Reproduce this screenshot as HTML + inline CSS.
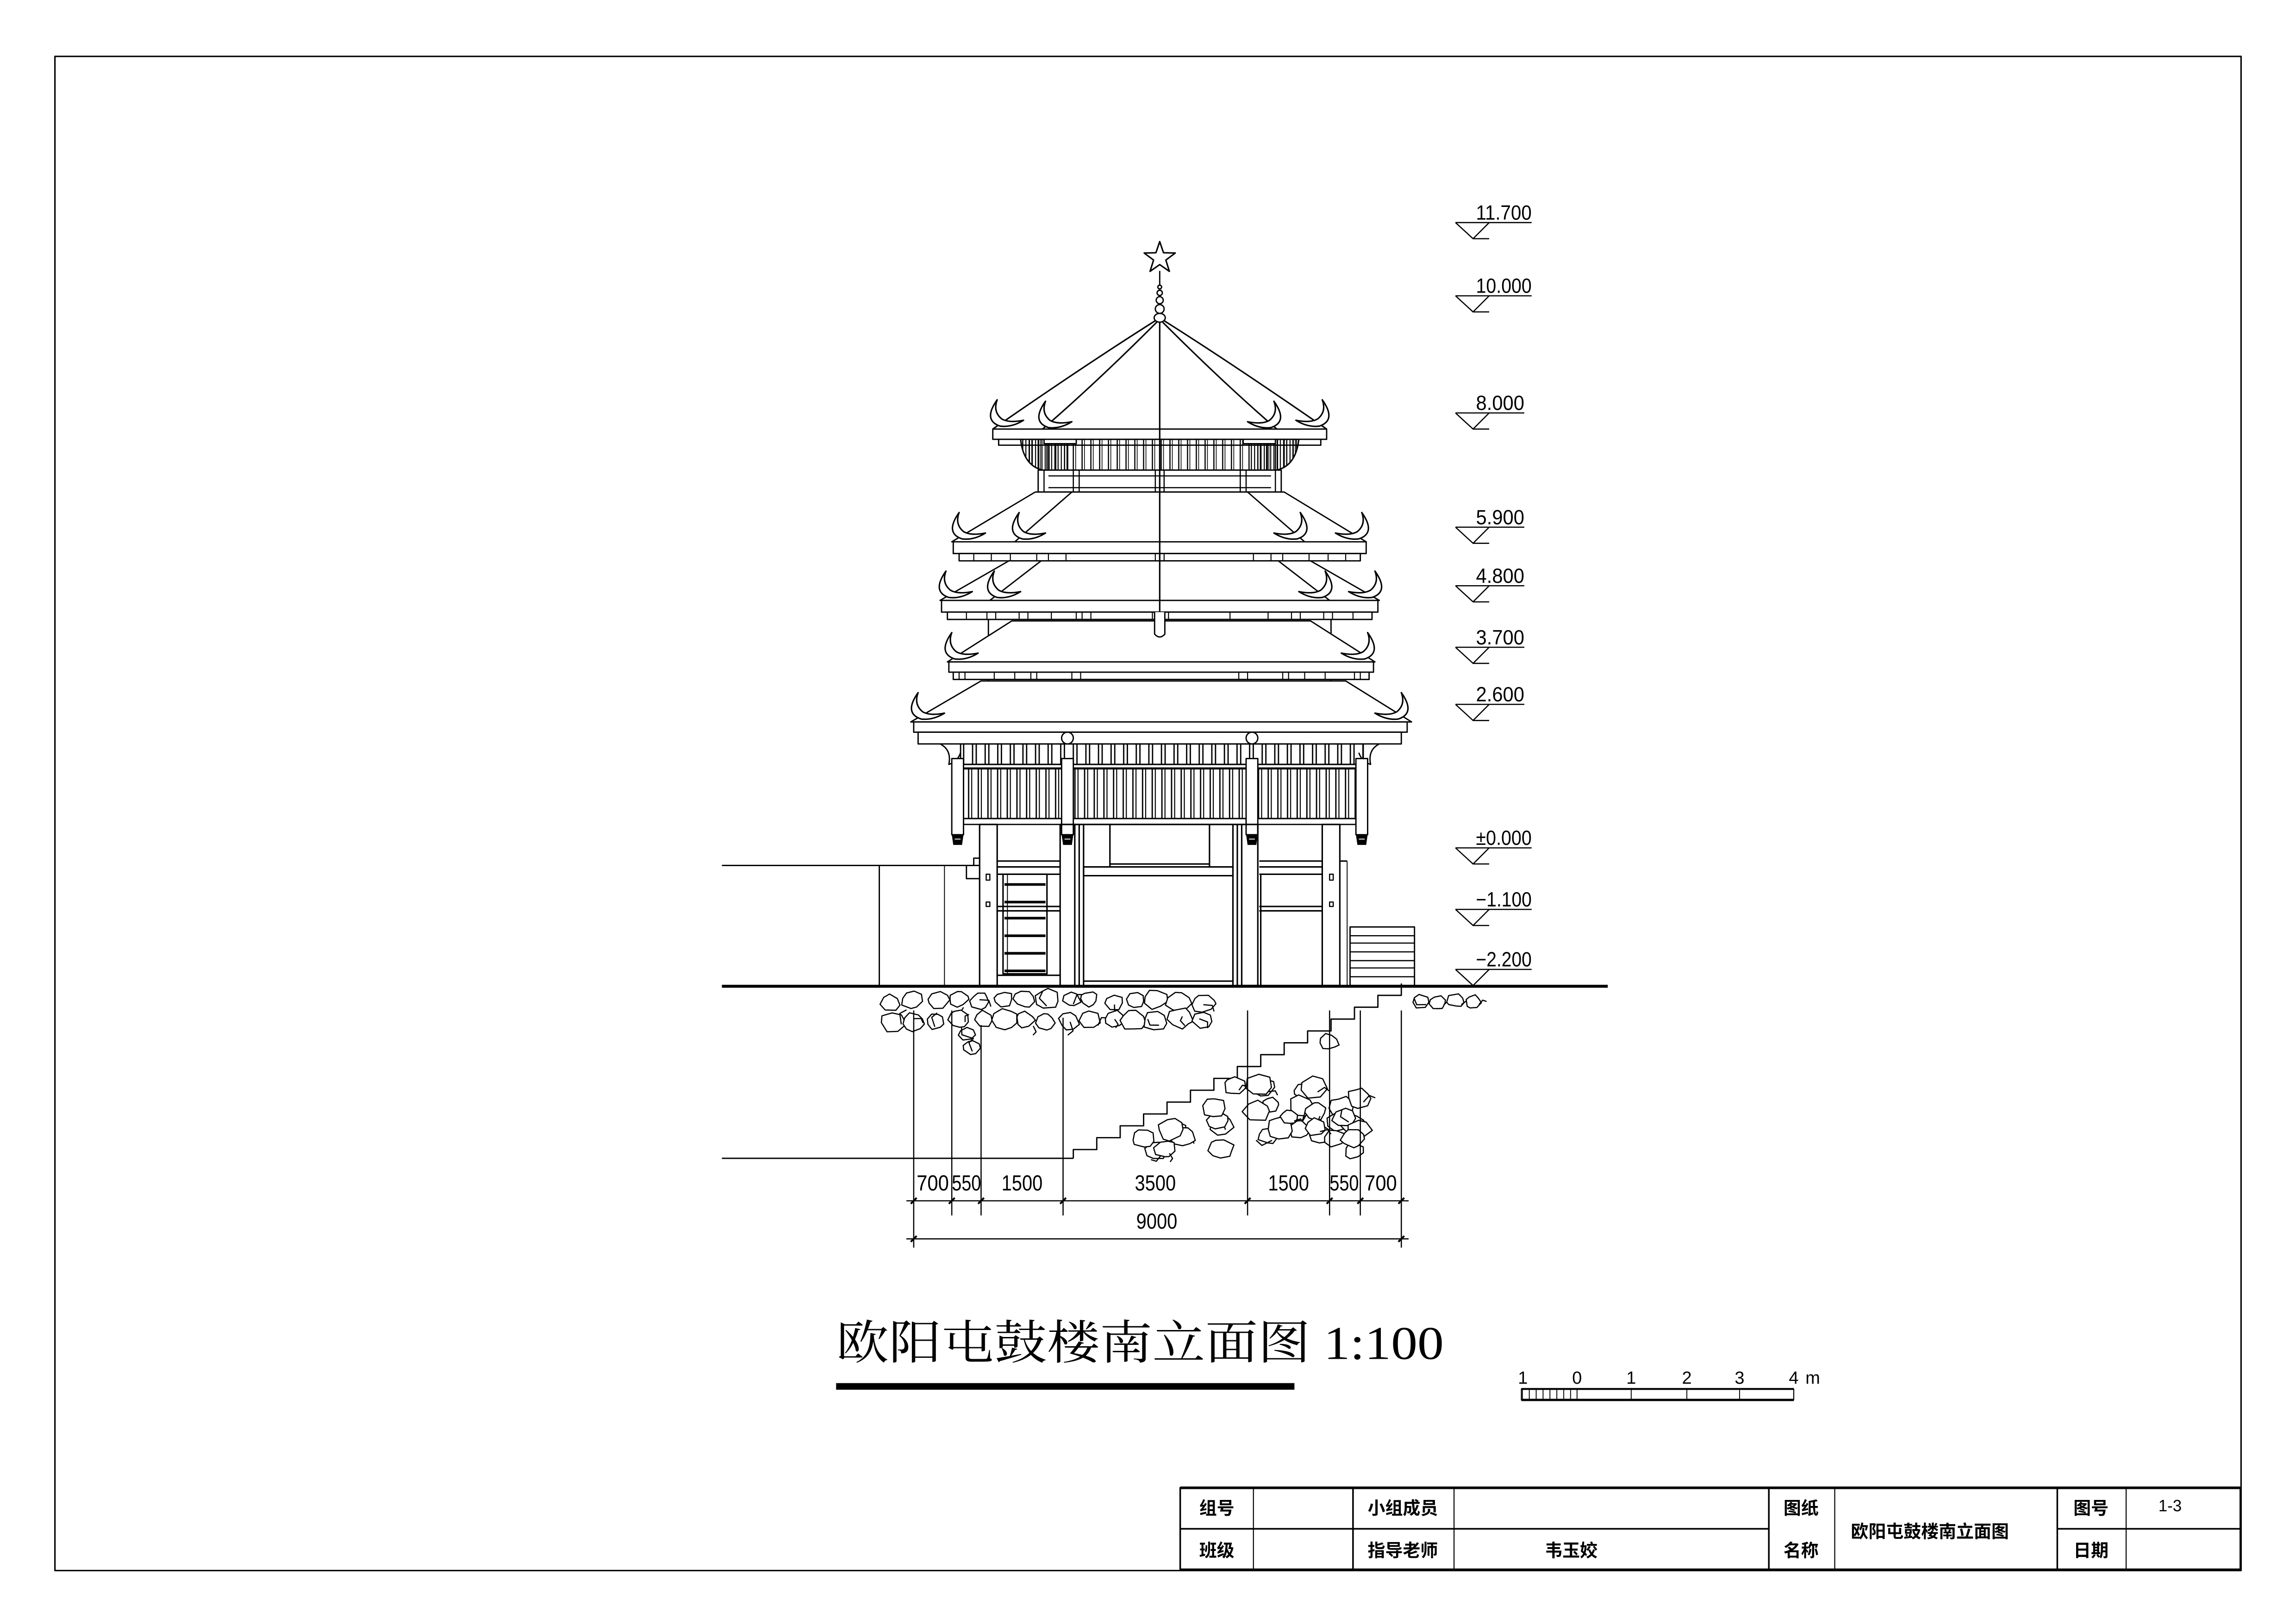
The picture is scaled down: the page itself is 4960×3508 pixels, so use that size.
<!DOCTYPE html>
<html><head><meta charset="utf-8"><style>
html,body{margin:0;padding:0;background:#fff}
svg{display:block}
text{font-family:"Liberation Sans","Noto Sans CJK SC",sans-serif;fill:#000}
</style></head><body>
<svg id="s" xmlns="http://www.w3.org/2000/svg" width="4960" height="3508" viewBox="0 0 1568 1109" fill="none" stroke="#000" stroke-width="0.9" stroke-linejoin="round">
<defs>
<pattern id="slat" width="8.6" height="10" patternUnits="userSpaceOnUse"><line x1="2" y1="0" x2="2" y2="10" stroke="#000" stroke-width="0.9"/><line x1="4.5" y1="0" x2="4.5" y2="10" stroke="#000" stroke-width="0.9"/></pattern>
<pattern id="slat2" width="6.6" height="10" patternUnits="userSpaceOnUse"><line x1="1.5" y1="0" x2="1.5" y2="10" stroke="#000" stroke-width="0.9"/><line x1="3.6" y1="0" x2="3.6" y2="10" stroke="#000" stroke-width="0.7"/></pattern>
<pattern id="belt" width="6" height="10" patternUnits="userSpaceOnUse"><line x1="1" y1="0" x2="1" y2="10" stroke="#000" stroke-width="0.8"/><line x1="2.6" y1="0" x2="2.6" y2="10" stroke="#000" stroke-width="0.5"/></pattern>
<pattern id="beltd" width="2.2" height="10" patternUnits="userSpaceOnUse"><line x1="1" y1="0" x2="1" y2="10" stroke="#000" stroke-width="0.7"/></pattern>
<pattern id="hatch" width="4.7" height="10" patternUnits="userSpaceOnUse"><line x1="1" y1="0" x2="1" y2="10" stroke="#000" stroke-width="0.6"/></pattern>
</defs>

<rect x="37.5" y="38.5" width="1493" height="1034" stroke-width="1"/>

<g stroke-width="1.1">
<rect x="806" y="1016" width="724" height="56"/>
<line x1="806" y1="1016" x2="1530" y2="1016" stroke-width="1.8"/>
<line x1="806" y1="1072" x2="1530" y2="1072" stroke-width="1.8"/>
<line x1="806" y1="1044" x2="1208" y2="1044"/>
<line x1="1405" y1="1044" x2="1530" y2="1044"/>
<line x1="856" y1="1016" x2="856" y2="1072" stroke-width="0.7"/>
<line x1="924" y1="1016" x2="924" y2="1072"/>
<line x1="993" y1="1016" x2="993" y2="1072" stroke-width="0.7"/>
<line x1="1208" y1="1016" x2="1208" y2="1072"/>
<line x1="1253" y1="1016" x2="1253" y2="1072" stroke-width="0.7"/>
<line x1="1405" y1="1016" x2="1405" y2="1072"/>
<line x1="1452" y1="1016" x2="1452" y2="1072" stroke-width="0.7"/>
</g>
<g stroke="none" font-size="12" font-weight="bold" text-anchor="middle">
<text x="831" y="1034">组号</text>
<text x="831" y="1063">班级</text>
<text x="958" y="1034">小组成员</text>
<text x="958" y="1063">指导老师</text>
<text x="1073" y="1063">韦玉姣</text>
<text x="1230" y="1034">图纸</text>
<text x="1230" y="1063">名称</text>
<text x="1318" y="1050">欧阳屯鼓楼南立面图</text>
<text x="1428" y="1034">图号</text>
<text x="1428" y="1063">日期</text>
<text x="1482" y="1032" font-family="Liberation Serif" font-weight="normal" font-size="11">1-3</text>
</g>

<text x="571" y="928" font-size="32" textLength="415" lengthAdjust="spacingAndGlyphs" stroke="none" style="font-family:'Liberation Serif','Noto Serif CJK SC',serif">欧阳屯鼓楼南立面图 1:100</text>
<rect x="571" y="944.5" width="313" height="4.5" fill="#000" stroke="none"/>

<g stroke="none" font-size="12" text-anchor="middle" style="font-family:'Liberation Serif',serif">
<text x="1040" y="945">1</text><text x="1077" y="945">0</text><text x="1114" y="945">1</text><text x="1152" y="945">2</text><text x="1188" y="945">3</text><text x="1225" y="945">4</text><text x="1238" y="945">m</text>
</g>
<rect x="1039" y="949" width="38" height="6.5" fill="url(#hatch)" stroke="none"/>
<rect x="1039" y="948.5" width="186" height="7.5" stroke-width="0.7"/>
<line x1="1039" y1="948.5" x2="1225" y2="948.5" stroke-width="1.3"/>
<line x1="1039" y1="956" x2="1225" y2="956" stroke-width="1.6"/>
<line x1="1077" y1="948.5" x2="1077" y2="956" stroke-width="0.6"/>
<line x1="1114" y1="948.5" x2="1114" y2="956" stroke-width="0.6"/>
<line x1="1152" y1="948.5" x2="1152" y2="956" stroke-width="0.6"/>
<line x1="1188" y1="948.5" x2="1188" y2="956" stroke-width="0.6"/>

<g id="levels" stroke-width="0.8"></g>

<line x1="493" y1="673.5" x2="1098" y2="673.5" stroke-width="2"/>
<line x1="493" y1="591" x2="669" y2="591"/>
<line x1="600.5" y1="591" x2="600.5" y2="673"/>
<line x1="645" y1="591" x2="645" y2="673" stroke-width="0.6"/>
<path d="M660 591 h5 v-5 h4 M660 591 v9 h9"/>
<line x1="493" y1="791" x2="733" y2="791"/>
<path id="stairs" d=""/>

<polygon points="792,165 794.6,172.6 802.6,172.8 796.2,177.6 798.6,185.3 792,180.7 785.4,185.3 787.8,177.6 781.4,172.8 789.4,172.6" fill="#fff" stroke-width="1"/>
<line x1="792" y1="185" x2="792" y2="196"/>
<circle cx="792" cy="196" r="1.3" fill="#fff"/>
<circle cx="792" cy="200" r="1.8" fill="#fff"/>
<circle cx="792" cy="205" r="2.4" fill="#fff"/>
<circle cx="792" cy="211" r="3" fill="#fff"/>
<ellipse cx="792" cy="217" rx="3.8" ry="3" fill="#fff"/>
<path d="M789 219 Q740 250 678 293 M790 220 Q748 262 712 293 M794 220 Q836 262 872 293 M795 219 Q844 250 906 293" stroke-width="1"/>
<rect x="678" y="293" width="228" height="7" fill="#fff"/>
<rect x="682" y="300" width="220" height="4" fill="#fff"/>
<path d="M697 300 Q699 318 712 321 L872 321 Q885 318 887 300 Z" fill="url(#belt)"/>
<path d="M697 300 Q699 318 712 321 L730 321 L730 300 Z" fill="url(#beltd)" stroke="none"/>
<path d="M854 300 L854 321 L872 321 Q885 318 887 300 Z" fill="url(#beltd)" stroke="none"/>
<path d="M697 300 Q699 318 712 321 L872 321 Q885 318 887 300"/>
<rect x="713" y="300" width="22" height="3" fill="#fff"/><rect x="849" y="300" width="22" height="3" fill="#fff"/>
<rect x="709" y="321" width="166" height="15" fill="#fff"/>
<g stroke-width="0.8">
<line x1="713" y1="321" x2="713" y2="336"/><line x1="733" y1="321" x2="733" y2="336"/><line x1="737" y1="321" x2="737" y2="336"/>
<line x1="789" y1="321" x2="789" y2="336"/><line x1="795" y1="321" x2="795" y2="336"/>
<line x1="847" y1="321" x2="847" y2="336"/><line x1="851" y1="321" x2="851" y2="336"/><line x1="871" y1="321" x2="871" y2="336"/>
<line x1="716" y1="325" x2="868" y2="325"/><line x1="716" y1="333" x2="868" y2="333"/>
</g>

<polygon points="707,336 877,336 933,370 650,370" fill="#fff"/>
<line x1="732" y1="336" x2="693" y2="370"/><line x1="852" y1="336" x2="891" y2="370"/>
<rect x="651" y="370" width="282" height="8" fill="#fff"/>
<rect x="655" y="378" width="274" height="5" fill="#fff"/>
<g stroke-width="0.7"><rect x="665" y="378" width="12" height="5"/><rect x="690" y="378" width="18" height="5"/><rect x="716" y="378" width="12" height="5"/><rect x="789" y="378" width="6" height="5"/><rect x="856" y="378" width="12" height="5"/><rect x="876" y="378" width="18" height="5"/><rect x="907" y="378" width="12" height="5"/></g>

<polygon points="689,383 895,383 942,410 642,410" fill="#fff"/>
<line x1="711" y1="383" x2="676" y2="410"/><line x1="873" y1="383" x2="908" y2="410"/>
<rect x="643" y="410" width="298" height="8" fill="#fff"/>
<rect x="647" y="418" width="290" height="5" fill="#fff"/>
<g stroke-width="0.7"><rect x="660" y="418" width="14" height="5"/><rect x="680" y="418" width="16" height="5"/><rect x="702" y="418" width="16" height="5"/><rect x="735" y="418" width="4" height="5"/><rect x="745" y="418" width="42" height="5"/><rect x="798" y="418" width="42" height="5"/><rect x="866" y="418" width="16" height="5"/><rect x="888" y="418" width="16" height="5"/><rect x="910" y="418" width="14" height="5"/></g>

<line x1="675" y1="423" x2="675" y2="465"/><line x1="909" y1="423" x2="909" y2="465"/>
<polygon points="691,424 895,424 939,452 647,452" fill="#fff"/>
<rect x="648" y="452" width="290" height="7" fill="#fff"/>
<rect x="651" y="459" width="284" height="5" fill="#fff"/>
<g stroke-width="0.7"><rect x="655" y="459" width="4" height="5"/><rect x="679" y="459" width="14" height="5"/><rect x="704" y="459" width="4" height="5"/><rect x="732" y="459" width="6" height="5"/><rect x="846" y="459" width="6" height="5"/><rect x="876" y="459" width="4" height="5"/><rect x="891" y="459" width="14" height="5"/><rect x="925" y="459" width="4" height="5"/></g>

<line x1="792" y1="220" x2="792" y2="420" stroke-width="1"/>
<path d="M788.5 418 V433 Q792 437 795.5 433 V418" fill="#fff"/>

<polygon points="670,465 919,465 964,493 622,493" fill="#fff"/>
<rect x="624" y="493" width="337" height="7" fill="#fff"/>
<rect x="627" y="500" width="330" height="8" fill="#fff"/>
<rect x="656" y="508" width="275" height="14" fill="url(#slat)"/>
<line x1="656" y1="522" x2="931" y2="522"/><line x1="658" y1="524.5" x2="926" y2="524.5"/>
<rect x="658" y="525" width="275" height="34" fill="url(#slat2)" stroke="none"/>
<rect x="658" y="525" width="268" height="34"/>
<rect x="658" y="559" width="268" height="4" fill="#fff"/>
<path d="M642 508 Q650 512 648 522 Q654 520 656 514" />
<path d="M942 508 Q934 512 936 522 Q930 520 928 514" />
<g fill="#fff">
<rect x="650" y="518" width="8" height="52"/><rect x="725" y="518" width="8" height="52"/><rect x="851" y="518" width="8" height="52"/><rect x="926" y="518" width="8" height="52"/>
<circle cx="729" cy="504" r="4"/><circle cx="855" cy="504" r="4"/>
</g>
<g fill="#000" stroke="none">
<path d="M650 570 h8 l-1 7 h-6 z"/><path d="M725 570 h8 l-1 7 h-6 z"/><path d="M851 570 h8 l-1 7 h-6 z"/><path d="M926 570 h8 l-1 7 h-6 z"/>
</g>
<g stroke="#fff" stroke-width="0.6"><line x1="652" y1="573" x2="656" y2="573"/><line x1="727" y1="573" x2="731" y2="573"/><line x1="853" y1="573" x2="857" y2="573"/><line x1="928" y1="573" x2="932" y2="573"/></g>

<g stroke-width="1">
<rect x="669" y="563" width="12" height="110"/>
<rect x="724" y="563" width="10" height="110"/>
<rect x="848" y="563" width="11" height="110"/>
<rect x="903" y="563" width="12" height="110"/>
<line x1="734" y1="563" x2="848" y2="563"/>
<line x1="737" y1="563" x2="737" y2="673"/><line x1="740" y1="563" x2="740" y2="673"/>
<line x1="845" y1="563" x2="845" y2="673"/><line x1="842" y1="563" x2="842" y2="673"/>
<line x1="758" y1="563" x2="758" y2="592"/><line x1="826" y1="563" x2="826" y2="592"/>
<rect x="740" y="592" width="102" height="6"/>
<line x1="758" y1="590" x2="826" y2="590"/>
<line x1="740" y1="670" x2="842" y2="670"/>
<line x1="681" y1="588" x2="724" y2="588"/><line x1="681" y1="592" x2="724" y2="592"/><line x1="681" y1="597" x2="724" y2="597"/>
<line x1="681" y1="619" x2="724" y2="619"/><line x1="681" y1="622" x2="724" y2="622"/>
<rect x="685" y="597" width="30" height="68"/>
<line x1="688" y1="597" x2="688" y2="665" stroke-width="0.6"/>
<line x1="681" y1="666" x2="724" y2="666"/>
<line x1="860" y1="588" x2="903" y2="588"/><line x1="860" y1="592" x2="903" y2="592"/><line x1="860" y1="597" x2="903" y2="597"/>
<line x1="860" y1="619" x2="903" y2="619"/><line x1="860" y1="622" x2="903" y2="622"/>
<line x1="861" y1="597" x2="861" y2="673"/>
<line x1="915" y1="588" x2="920" y2="588"/><line x1="920" y1="588" x2="920" y2="673" stroke-width="0.6"/>
</g>
<g stroke-width="1.8"><line x1="686" y1="604" x2="714" y2="604"/><line x1="686" y1="616" x2="714" y2="616"/><line x1="686" y1="627" x2="714" y2="627"/><line x1="686" y1="639" x2="714" y2="639"/><line x1="686" y1="651" x2="714" y2="651"/><line x1="686" y1="663" x2="714" y2="663"/></g>
<g stroke-width="0.8"><rect x="673.5" y="597" width="2.5" height="4"/><rect x="673.5" y="616" width="2.5" height="3"/><rect x="908" y="597" width="2.5" height="4"/><rect x="908" y="616" width="2.5" height="3"/></g>
<rect x="922" y="633" width="44" height="40"/>
<g stroke-width="0.8"><line x1="922" y1="639" x2="966" y2="639"/><line x1="922" y1="644" x2="966" y2="644"/><line x1="922" y1="650" x2="966" y2="650"/><line x1="922" y1="656" x2="966" y2="656"/><line x1="922" y1="661" x2="966" y2="661"/><line x1="922" y1="667" x2="966" y2="667"/></g>

<g id="horns" fill="#fff" stroke-width="1"></g>
<g id="stones" stroke-width="0.8"></g>

<g stroke-width="0.8">
<line x1="624" y1="690" x2="624" y2="852"/><line x1="650" y1="690" x2="650" y2="830"/><line x1="670" y1="700" x2="670" y2="830"/><line x1="726" y1="695" x2="726" y2="830"/>
<line x1="852" y1="690" x2="852" y2="830"/><line x1="908" y1="690" x2="908" y2="830"/><line x1="929" y1="690" x2="929" y2="830"/><line x1="957" y1="690" x2="957" y2="852"/>
<line x1="619" y1="820" x2="962" y2="820"/>
<line x1="619" y1="846" x2="962" y2="846"/>
</g>
<g stroke-width="1.3">
<line x1="622" y1="822" x2="626" y2="818"/><line x1="648" y1="822" x2="652" y2="818"/><line x1="668" y1="822" x2="672" y2="818"/><line x1="724" y1="822" x2="728" y2="818"/><line x1="850" y1="822" x2="854" y2="818"/><line x1="906" y1="822" x2="910" y2="818"/><line x1="927" y1="822" x2="931" y2="818"/><line x1="955" y1="822" x2="959" y2="818"/>
<line x1="622" y1="848" x2="626" y2="844"/><line x1="955" y1="848" x2="959" y2="844"/>
</g>
<g stroke="none" font-size="15" text-anchor="middle">
<text x="637" y="813" textLength="22" lengthAdjust="spacingAndGlyphs">700</text>
<text x="660" y="813" textLength="20" lengthAdjust="spacingAndGlyphs">550</text>
<text x="698" y="813" textLength="28" lengthAdjust="spacingAndGlyphs">1500</text>
<text x="789" y="813" textLength="28" lengthAdjust="spacingAndGlyphs">3500</text>
<text x="880" y="813" textLength="28" lengthAdjust="spacingAndGlyphs">1500</text>
<text x="918" y="813" textLength="20" lengthAdjust="spacingAndGlyphs">550</text>
<text x="943" y="813" textLength="22" lengthAdjust="spacingAndGlyphs">700</text>
<text x="790" y="839" textLength="28" lengthAdjust="spacingAndGlyphs">9000</text>
</g>
</svg>
<script>
(function(){
var NS="http://www.w3.org/2000/svg";
function el(p,t,a){var e=document.createElementNS(NS,t);for(var k in a)e.setAttribute(k,a[k]);p.appendChild(e);return e;}
var lv=document.getElementById('levels');
var L=[["11.700",152],["10.000",202],["8.000",282],["5.900",360],["4.800",400],["3.700",442],["2.600",481],["±0.000",579],["−1.100",621],["−2.200",662]];
L.forEach(function(a){var y=a[1];
 var tw=a[0].length>5?38:33;
 el(lv,'path',{d:'M994 '+y+' H'+(1008+tw)+' M994 '+y+' L1006 '+(y+11)+' L1017 '+y+' M1006 '+(y+11)+' H1017'});
 var t=el(lv,'text',{x:1008,y:y-2,'font-size':14,stroke:'none',textLength:tw,lengthAdjust:'spacingAndGlyphs'});t.textContent=a[0];
});
var hg=document.getElementById('horns');
function horn(x,y,d){var s=function(dx){return x+dx*d;};
 el(hg,'path',{d:'M'+x+' '+y+' Q'+s(-10)+' '+(y+14)+' '+s(2)+' '+(y+18)+' Q'+s(10)+' '+(y+19)+' '+s(18)+' '+(y+14)+' Q'+s(8)+' '+(y+16)+' '+s(3)+' '+(y+13)+' Q'+s(-3)+' '+(y+8)+' '+x+' '+y+' Z'});}
[[681,273],[714,274],[655,350],[696,350],[646,390],[679,390],[650,432],[627,473]].forEach(function(p){horn(p[0],p[1],1);});
[[903,273],[870,274],[930,350],[888,350],[939,390],[905,390],[934,432],[957,473]].forEach(function(p){horn(p[0],p[1],-1);});
var d='M733 791 V785';var x=733,y=785;
for(var i=0;i<14;i++){x+=16;d+=' H'+x.toFixed(1);y-=8.1;d+=' V'+y.toFixed(1);}
document.getElementById('stairs').setAttribute('d',d);
var sg=document.getElementById('stones');var seed=7;
function r(){seed=(seed*16807)%2147483647;return seed/2147483647;}
function stone(cx,cy,rad){var n=7+Math.floor(r()*3),pts=[];for(var i=0;i<n;i++){var a=i/n*6.283+r()*0.4,rr=rad*(0.85+r()*0.3);pts.push((cx+Math.cos(a)*rr*1.1).toFixed(1)+','+(cy+Math.sin(a)*rr*0.9).toFixed(1));}
 el(sg,'polygon',{points:pts.join(' '),fill:'#fff'});}
function stick(cx,cy){var a=r()*6.28,l=4+r()*4;el(sg,'path',{d:'M'+cx.toFixed(1)+' '+cy.toFixed(1)+' l'+(Math.cos(a)*l).toFixed(1)+' '+(Math.sin(a)*l).toFixed(1)+' l'+(Math.cos(a+1.2)*l*0.7).toFixed(1)+' '+(Math.sin(a+1.2)*l*0.7).toFixed(1)});}
for(var xx=608;xx<828;xx+=15){for(var yy=682;yy<706;yy+=13){stone(xx+r()*4,yy+r()*3,5.5+r()*2.5);if(r()<0.6)stick(xx+r()*8,yy+r()*8);}}
for(var yy=706;yy<722;yy+=9){stone(660+r()*4,yy,5);stick(664,yy+3);}
for(var i=0;i<70;i++){var tx=765+r()*165,ty=690+r()*98;var top=791-(tx-733)*(115/224);if(ty<top+6)continue;stone(tx,ty,5.5+r()*3);if(r()<0.5)stick(tx+3,ty+3);}
for(var xx=970;xx<1012;xx+=12){stone(xx,682+r()*3,5);stick(xx+4,686);}
})();
</script>
</body></html>
